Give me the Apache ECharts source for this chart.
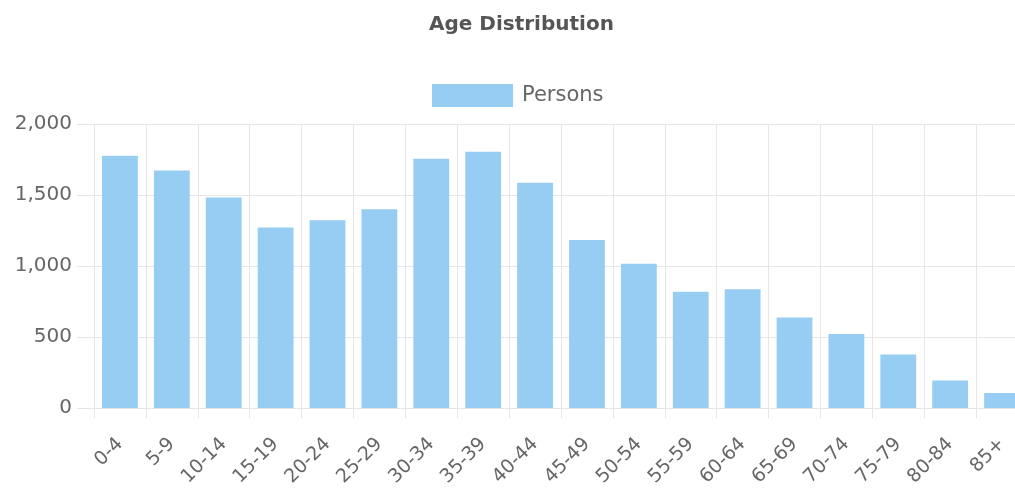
<!DOCTYPE html>
<html>
<head>
<meta charset="utf-8">
<title>Age Distribution</title>
<script src="https://cdn.jsdelivr.net/npm/echarts@6/dist/echarts.min.js"></script>
<style>
  html, body { margin: 0; padding: 0; background: #fff; overflow: hidden; }
  /* the source chart runs a little past the right edge of the picture */
  #chart { width: 1028px; height: 489px; }
</style>
</head>
<body>
<div id="chart"></div>
<script>
// age groups and head counts
const ageGroups = ['0-4', '5-9', '10-14', '15-19', '20-24', '25-29', '30-34', '35-39', '40-44',
  '45-49', '50-54', '55-59', '60-64', '65-69', '70-74', '75-79', '80-84', '85+']
const persons = [1777, 1673, 1482, 1272, 1323, 1400, 1756, 1805, 1586,
  1184, 1016, 819, 837, 638, 521, 377, 195, 107]
const yTicks = { min: 0, max: 2000, step: 500 }

const barColor = '#97cdf2'
const gridColor = '#e6e6e6'
const textColor = '#666'
const font = 'DejaVu Sans'

const chart = echarts.init(document.getElementById('chart'))
chart.setOption({
  animation: false,
  title: {
    text: 'Age Distribution',
    left: 424,
    top: 10,
    textStyle: { fontFamily: font, fontSize: 20, fontWeight: 'bold', color: '#555' }
  },
  legend: {
    data: ['Persons'],
    left: 427,
    top: 79,
    icon: 'rect',
    itemWidth: 81,
    itemHeight: 23,
    itemGap: 12,
    textStyle: { fontFamily: font, fontSize: 21, color: textColor, padding: [0, 0, 0, 4] }
  },
  grid: { left: 94, top: 124, right: 0, bottom: 78.5, containLabel: false },
  xAxis: {
    type: 'category',
    data: ageGroups,
    axisLine: { show: true, lineStyle: { color: gridColor } },
    axisTick: { show: true, length: 10, lineStyle: { color: gridColor } },
    splitLine: { show: true, lineStyle: { color: gridColor } },
    axisLabel: { rotate: 45, margin: 33, fontFamily: font, fontSize: 19, color: textColor }
  },
  yAxis: {
    type: 'value',
    min: yTicks.min,
    max: yTicks.max,
    interval: yTicks.step,
    axisLine: { show: true, lineStyle: { color: gridColor } },
    axisTick: { show: true, length: 17, lineStyle: { color: gridColor } },
    splitLine: { show: true, lineStyle: { color: gridColor } },
    axisLabel: {
      margin: 22, fontFamily: font, fontSize: 20, color: textColor,
      formatter: v => v.toLocaleString('en-US')
    }
  },
  series: [{
    name: 'Persons',
    type: 'bar',
    data: persons,
    barCategoryGap: '31%',
    itemStyle: { color: barColor }
  }]
})
</script>
</body>
</html>
